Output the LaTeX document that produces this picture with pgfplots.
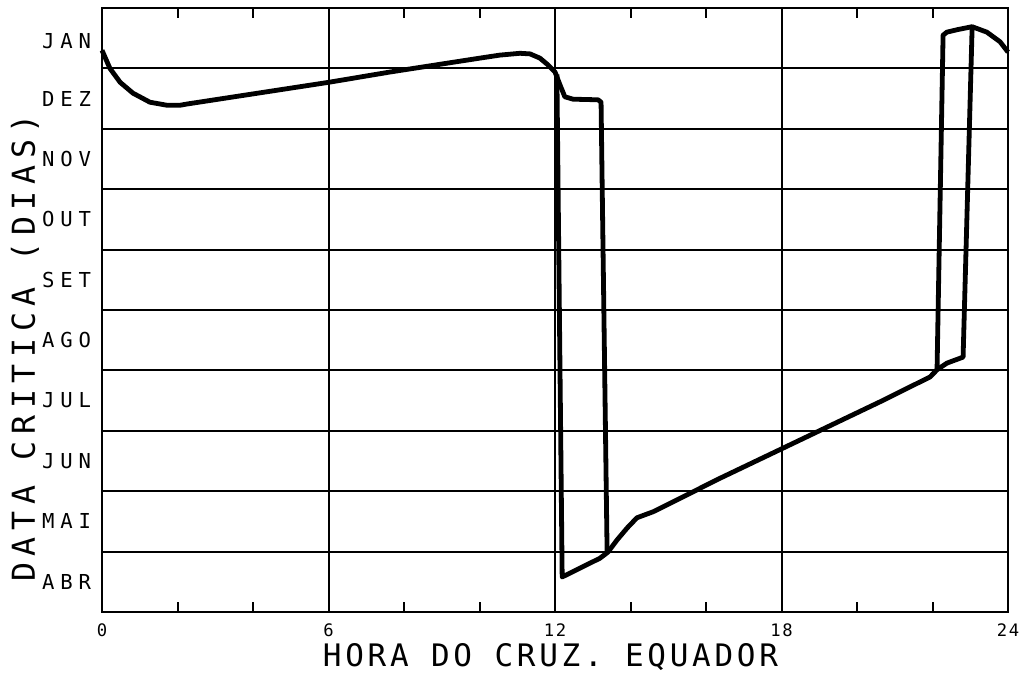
\documentclass[border=0pt]{standalone}
\usepackage{pgfplots}
\pgfplotsset{compat=1.18}
\usepackage{fontspec}
\newfontfamily\pfmonth[LetterSpace=28]{DejaVu Sans Mono}
\newfontfamily\pfxlab[LetterSpace=12]{DejaVu Sans Mono}
\newfontfamily\pfylab[LetterSpace=21]{DejaVu Sans Mono}
\newfontfamily\pfnum[LetterSpace=10]{DejaVu Sans Mono}
\begin{document}
\begin{tikzpicture}
\path[use as bounding box] (-51pt,-33.5pt) rectangle (464.5pt,306pt);
\begin{axis}[
  at={(0,0)}, anchor=south west,
  width=453pt, height=302pt, scale only axis,
  xmin=0, xmax=24, ymin=0, ymax=10,
  axis line style={line width=1.2pt, black},
  xtick={0,6,12,18,24}, xticklabels={0,6,12,18,24},
  minor xtick={2,4,8,10,14,16,20,22},
  xtick pos=both,
  major tick length=0pt,
  minor tick length=5pt,
  minor tick style={line width=1pt, black},
  xmajorgrids=true,
  major grid style={line width=1pt, black},
  ytick={0.5,1.5,2.5,3.5,4.5,5.5,6.5,7.5,8.5,9.45},
  yticklabels={ABR,MAI,JUN,JUL,AGO,SET,OUT,NOV,DEZ,JAN},
  ytick pos=left,
  extra y ticks={1,2,3,4,5,6,7,8,9},
  extra y tick labels={},
  extra y tick style={grid=major},
  xticklabel style={font=\pfnum\fontsize{8.6}{10}\selectfont, inner sep=0pt, yshift=-5.8pt},
  yticklabel style={font=\pfmonth\fontsize{10.3}{12}\selectfont, xshift=-2pt},
  xlabel={HORA DO CRUZ. EQUADOR},
  ylabel={DATA CRITICA (DIAS)},
  xlabel style={font=\pfxlab\fontsize{15.5}{17}\selectfont, inner sep=0pt, at={([yshift=-27pt]axis description cs:0.495,0)}, anchor=base},
  ylabel style={font=\pfylab\fontsize{15.8}{17}\selectfont, inner sep=0pt, at={([xshift=-33.5pt]axis description cs:0,0.437)}, anchor=base},
  clip=false,
]
\addplot[black, line width=2.4pt, line join=round] coordinates {
(0,9.30) (0.21,9.0) (0.48,8.77) (0.82,8.59) (1.27,8.44) (1.72,8.39) (2.07,8.39) (2.25,8.41)
(6.01,8.77) (7.63,8.94) (10.01,9.17) (10.54,9.22) (11.07,9.25) (11.34,9.24) (11.60,9.17)
(11.81,9.06) (12.0,8.94) (12.13,8.73) (12.26,8.53) (12.48,8.49) (13.14,8.48) (13.22,8.44)
(13.38,0.99)
};
\addplot[black, line width=2.4pt, line join=round] coordinates {
(12.05,8.9) (12.19,0.58) (13.19,0.89) (13.40,0.99) (13.64,1.19) (13.91,1.39) (14.17,1.56)
(14.60,1.66) (15.50,1.94) (16.29,2.19) (20.61,3.48) (21.93,3.89) (22.12,4.01) (22.38,4.12)
(22.81,4.22) (23.05,9.69) (23.44,9.60) (23.79,9.44) (24,9.27)
};
\addplot[black, line width=2.4pt, line join=round] coordinates {
(22.12,4.01) (22.28,9.55) (22.38,9.60) (22.65,9.64) (23.05,9.69)
};
\end{axis}
\end{tikzpicture}
\end{document}
